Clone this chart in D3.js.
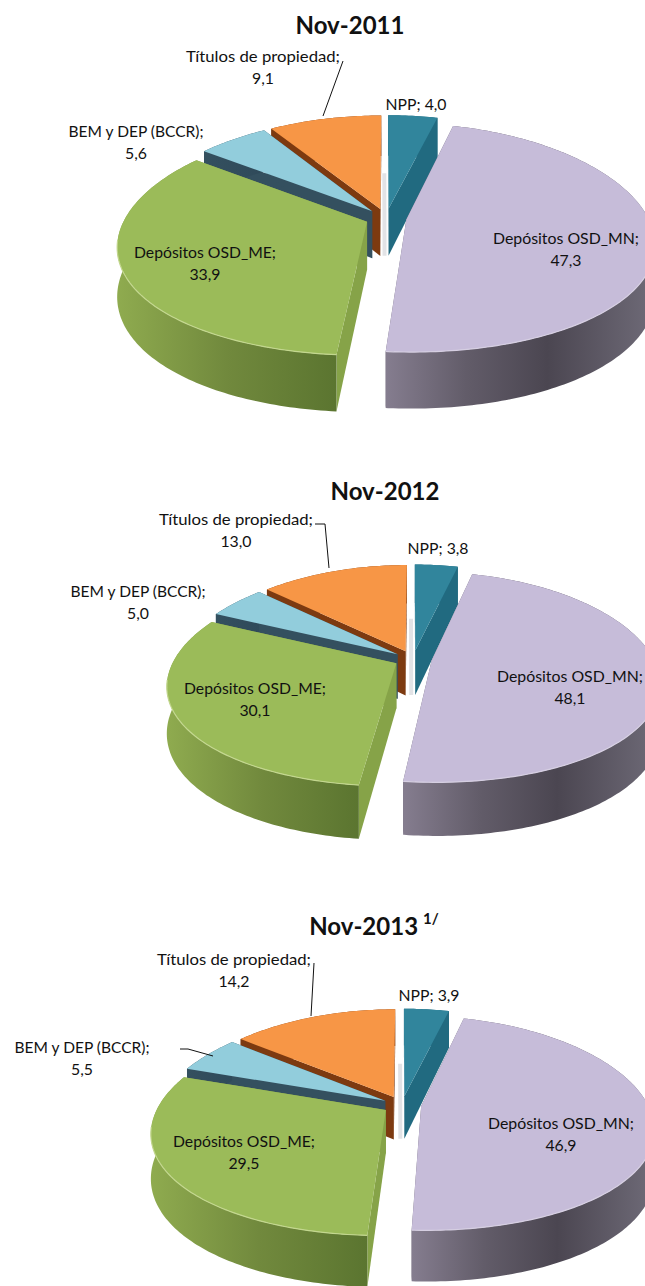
<!DOCTYPE html>
<html><head><meta charset="utf-8">
<script src="https://cdnjs.cloudflare.com/ajax/libs/d3/7.8.5/d3.min.js"></script>
<style>html,body{margin:0;background:#fff}svg{display:block}text{font-family:Lato,"Open Sans",sans-serif;fill:#111}</style>
</head><body><svg id="c" width="645" height="1286"></svg>
<script>
const categories=["NPP","Depósitos OSD_MN","Depósitos OSD_ME","BEM y DEP (BCCR)","Títulos de propiedad"];
const years=["Nov-2011","Nov-2012","Nov-2013"];
const values2011=[4.0,47.3,33.9,5.6,9.1];
const values2012=[3.8,48.1,30.1,5.0,13.0];
const values2013=[3.9,46.9,29.5,5.5,14.2];
const superscripts=["","","1/"];
const topColors=["#31859c","#c6bcd9","#9bbb59","#92cddc","#f79646"];
const faceColors=["#216a80","#6a6472","#86a348","#34505f","#7d3a10"];
const sideStops=[
 [["0","#216a80"],["1","#216a80"]],
 [["0","#857d8f"],["0.3","#625c69"],["0.6","#4b4651"],["1","#6f6b78"]],
 [["0","#8fab4f"],["0.5","#71893d"],["1","#5b7530"]],
 [["0","#34505f"],["1","#2f4a5a"]],
 [["0","#7d3a10"],["1","#7d3a10"]]];
const labelWidths=[61,146,142,135,154];
const layout=[
 {cx:386,cy:218,rx:242,ry:111,h:47.5,rot:0,title:[350,24],
  labels:[[416,103],[566,237],[205,251],[136,130],[263,55]],
  leaders:[[[343,61],[323,116]]]},
 {cx:413,cy:659,rx:222,ry:102,h:45,rot:0,title:[385,490],
  labels:[[438,547],[570,675],[255,687],[138,590],[236,518]],
  leaders:[[[315,524],[325,524],[329,568]]]},
 {cx:402,cy:1105,rx:227,ry:104,h:43,rot:0,title:[374,925],
  labels:[[429,994],[561,1122],[244,1140],[82,1046],[234,958]],
  leaders:[[[314,963],[311,1016]],[[180,1049],[188,1049],[213,1056]]]}
];
const explode=0.085,persp=0.158,perspX=1.3,arcStep=Math.PI/180;
const fmt=v=>d3.format(".1f")(v).replace(".",",");
const svg=d3.select("#c");
const defs=svg.append("defs");
sideStops.forEach((st,i)=>{
  const g=defs.append("linearGradient").attr("id","side"+i);
  st.forEach(s=>g.append("stop").attr("offset",s[0]).attr("stop-color",s[1]));
});
const line=d3.line().x(d=>d[0]).y(d=>d[1]);
const paintOrder=[4,3,0,2,1];
[values2011,values2012,values2013].forEach((vals,ci)=>{
  const L=layout[ci];
  const project=(gx,gy,z)=>{
    const s=1/(1-persp*gy);
    return [L.cx+L.rx*gx*Math.pow(s,perspX), L.cy+L.ry*gy*s+z*L.h*s];
  };
  const r0=L.rot*Math.PI/180;
  const arcs=d3.pie().sort(null).startAngle(r0).endAngle(2*Math.PI+r0)(vals);
  const g=svg.append("g");
  paintOrder.forEach(i=>{
    const a=arcs[i],mid=(a.startAngle+a.endAngle)/2;
    const ox=explode*Math.sin(mid),oy=-explode*Math.cos(mid);
    const pt=(th,r,z)=>project(ox+r*Math.sin(th),oy-r*Math.cos(th),z);
    const ths=d3.range(a.startAngle,a.endAngle,arcStep).concat([a.endAngle]);
    const top=ths.map(t=>pt(t,1,0)),bot=ths.map(t=>pt(t,1,1));
    const s=g.append("g");
    [a.startAngle,a.endAngle].forEach(t=>{
      s.append("path").attr("d",line([pt(t,0,0),pt(t,1,0),pt(t,1,1),pt(t,0,1)])+"Z").attr("fill",faceColors[i]);
    });
    s.append("path").attr("d",line(top.concat(bot.slice().reverse()))+"Z").attr("fill",`url(#side${i})`);
    if(i===0){
      const e0=pt(a.startAngle,0,1),e1=pt(a.startAngle,0.45,0);
      s.append("path").attr("d",line([[e1[0]-4,e1[1]+10],[e0[0]-4,e0[1]]])).attr("stroke","#e2e3e6").attr("stroke-width",4).attr("fill","none");
    }
    s.append("path").attr("d",line([pt(a.startAngle,0,0)].concat(top))+"Z").attr("fill",topColors[i]);
    const front=ths.filter(t=>-Math.cos(t)>0.15).map(t=>pt(t,1,0));
    if(front.length>1 && i>=1 && i<=2)
      s.append("path").attr("d",line(front)).attr("fill","none").attr("stroke",i===2?"#c3d78f":"#d6cfe2").attr("stroke-width",1.2);
  });
  const tx=g.append("text").attr("x",L.title[0]).attr("y",L.title[1]).attr("text-anchor","middle")
    .attr("dominant-baseline","central").attr("font-size",24).attr("font-weight",700).text(years[ci]);
  if(superscripts[ci]) tx.append("tspan").attr("dx",5).attr("dy",-7).attr("font-size",15).text(superscripts[ci]);
  L.leaders.forEach(p=>g.append("path").attr("d",line(p)).attr("fill","none").attr("stroke","#111").attr("stroke-width",1));
  const label=(x,y,t)=>g.append("text").attr("x",x).attr("y",y).attr("text-anchor","middle").attr("dominant-baseline","central").attr("font-size",15.8).text(t);
  categories.forEach((c,i)=>{
    const [x,y]=L.labels[i];
    if(i===0){
      label(x,y,`${c}; ${fmt(vals[i])}`).attr("textLength",labelWidths[i]).attr("lengthAdjust","spacingAndGlyphs");
    }else{
      label(x,y,`${c};`).attr("textLength",labelWidths[i]).attr("lengthAdjust","spacingAndGlyphs");
      label(x,y+22,fmt(vals[i]));
    }
  });
});
</script></body></html>
